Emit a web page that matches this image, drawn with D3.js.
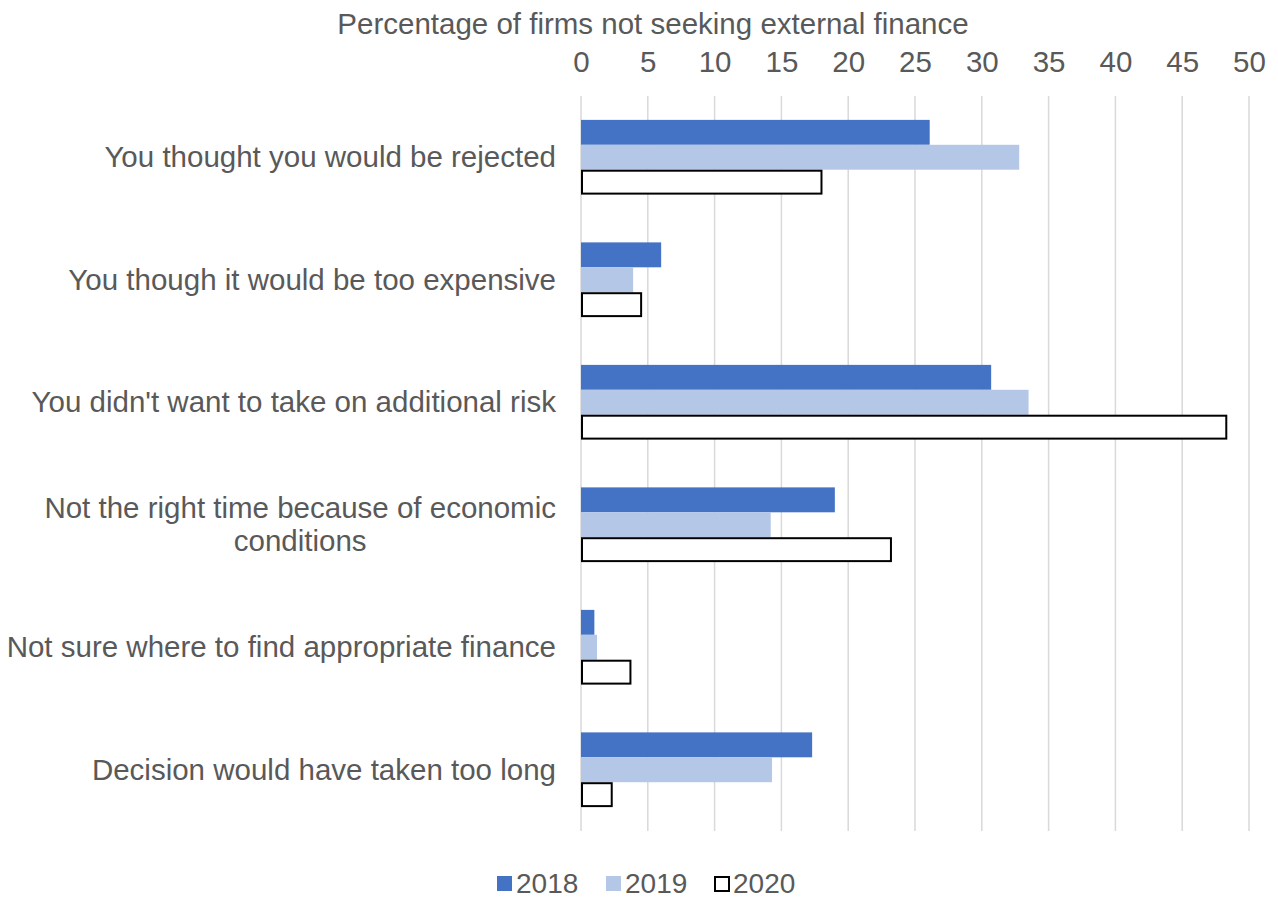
<!DOCTYPE html>
<html>
<head>
<meta charset="utf-8">
<script src="https://cdnjs.cloudflare.com/ajax/libs/d3/7.8.5/d3.min.js"></script>
<style>
  body { margin: 0; background: #fff; }
  text { font-family: "Liberation Sans", Arial, sans-serif; fill: #595959; }
</style>
</head>
<body>
<svg id="chart" width="1278" height="898"></svg>
<script>
const categories = [
  ['You thought you would be rejected'],
  ['You though it would be too expensive'],
  ["You didn't want to take on additional risk"],
  ['Not the right time because of economic', 'conditions'],
  ['Not sure where to find appropriate finance'],
  ['Decision would have taken too long']
];
const years = ['2018', '2019', '2020'];
const v2018 = [26.1, 6.0, 30.7, 19.0, 1.0, 17.3];
const v2019 = [32.8, 3.9, 33.5, 14.2, 1.2, 14.3];
const v2020 = [18.0, 4.5, 48.3, 23.2, 3.7, 2.3];
const xTicks = [0, 5, 10, 15, 20, 25, 30, 35, 40, 45, 50];

const series = [v2018, v2019, v2020];
const fills = ['#4472c4', '#b4c7e7', '#ffffff'];
const strokes = ['none', 'none', '#000000'];
const FS = '29.5px';

const svg = d3.select('#chart');
const margin = { left: 581, right: 29, top: 96, bottom: 67 };
const W = 1278, H = 898;

const x = d3.scaleLinear().domain([0, 50]).range([margin.left, W - margin.right]);
const y = d3.scaleBand()
  .domain(d3.range(categories.length))
  .range([margin.top, H - margin.bottom])
  .paddingInner(0.39).paddingOuter(0.195);
const yInner = d3.scaleBand().domain(d3.range(years.length)).range([0, y.bandwidth()]);

// gridlines
svg.append('g')
  .selectAll('line').data(xTicks).join('line')
  .attr('x1', d => x(d)).attr('x2', d => x(d))
  .attr('y1', margin.top).attr('y2', H - margin.bottom)
  .attr('stroke', '#d9d9d9').attr('stroke-width', 1.5);

// top axis labels
const axis = svg.append('g')
  .attr('transform', `translate(0,${margin.top - 24})`)
  .call(d3.axisTop(x).tickValues(xTicks).tickSize(0).tickPadding(0));
axis.select('.domain').remove();
axis.selectAll('text')
  .style('font-size', FS)
  .attr('fill', '#595959')
  .style('font-family', '"Liberation Sans", Arial, sans-serif');

svg.append('text')
  .attr('x', 653).attr('y', 34)
  .attr('text-anchor', 'middle')
  .style('font-size', FS)
  .text('Percentage of firms not seeking external finance');

// bars
series.forEach((vals, si) => {
  svg.append('g').selectAll('rect').data(vals).join('rect')
    .attr('x', x(0) + (si === 2 ? 1 : 0))
    .attr('y', (d, i) => y(i) + yInner(si) + (si === 2 ? 1 : 0))
    .attr('width', d => x(d) - x(0) - (si === 2 ? 1 : 0))
    .attr('height', yInner.bandwidth() - (si === 2 ? 2 : 0))
    .attr('fill', fills[si])
    .attr('stroke', strokes[si])
    .attr('stroke-width', 2);
});

// category labels
const labelRight = 556;
categories.forEach((lines, i) => {
  const cy = y(i) + y.bandwidth() / 2;
  const lh = 33;
  if (lines.length === 1) {
    svg.append('text')
      .attr('x', labelRight).attr('y', cy + 10)
      .attr('text-anchor', 'end')
      .style('font-size', FS)
      .text(lines[0]);
  } else {
    // wrapped label: lines centred in a block that is right aligned
    const g = svg.append('g');
    const t = g.selectAll('text').data(lines).join('text')
      .attr('y', (d, k) => cy + 10 + (k - (lines.length - 1) / 2) * lh)
      .attr('text-anchor', 'middle')
      .style('font-size', FS)
      .text(d => d);
    const wMax = d3.max(t.nodes(), n => n.getComputedTextLength());
    t.attr('x', labelRight - wMax / 2);
  }
});

// legend
const legend = svg.append('g').attr('transform', 'translate(497,884)');
const legendX = [0, 109, 217];
years.forEach((yr, i) => {
  legend.append('rect')
    .attr('x', legendX[i] + (i === 2 ? 1 : 0)).attr('y', -8 + (i === 2 ? 1 : 0))
    .attr('width', i === 2 ? 14 : 15).attr('height', i === 2 ? 14 : 15)
    .attr('fill', fills[i]).attr('stroke', strokes[i]).attr('stroke-width', 2);
  legend.append('text')
    .attr('x', legendX[i] + 19).attr('y', 9)
    .style('font-size', '28px')
    .text(yr);
});
</script>
</body>
</html>
